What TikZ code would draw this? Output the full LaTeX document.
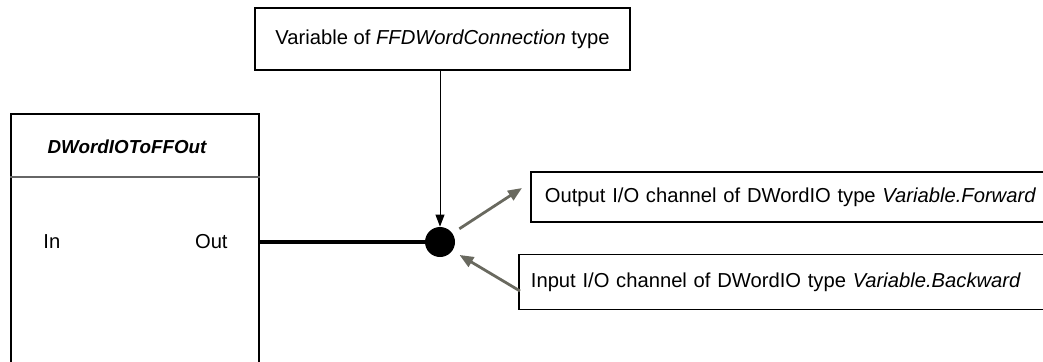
\documentclass[tikz,border=0pt]{standalone}
\usepackage{fontspec}
\setmainfont{Liberation Sans}
\usetikzlibrary{positioning,arrows.meta}
\definecolor{wiregray}{RGB}{105,105,95}
\tikzset{
  box/.style  ={rectangle, draw=black, line width=0.9pt, fill=white, inner sep=0pt},
  lbl/.style  ={font=\fontsize{10.1}{12}\selectfont, inner sep=0pt},
  chan/.style ={box, lbl, anchor=west, align=left, text width=262pt},
  fbttl/.style={font=\fontsize{9.4}{11}\selectfont\bfseries\itshape, inner sep=0pt},
  junc/.style ={circle, fill=black, minimum size=15pt, inner sep=0pt},
  e/.style    ={-{Triangle[length=6pt,width=4.5pt]}, draw=black, line width=0.5pt},
  eg/.style   ={-{Triangle[length=7pt,width=5.5pt]}, draw=wiregray, line width=1.4pt},
}

\begin{document}
\begin{tikzpicture}[x=0.5pt, y=-0.5pt]
\clip (0,0) rectangle (1043,361);
% function block (bottom runs off the picture)
\node[box, anchor=north west, minimum width=124pt, minimum height=160pt] (fb) at (10,113) {};
\draw[line width=0.6pt, black!60] (fb.north west |- 0,177) -- (fb.north east |- 0,177);
\node[fbttl] (fbname) at (127,147) {DWordIOToFFOut};
\node[lbl, anchor=west] (inpin) at (43,242) {In};
\node[lbl, anchor=east] (outlbl) at (228,242) {Out};
\coordinate (outpin) at (fb.east |- 0,242);
% variable and channels
\node[box, lbl, minimum width=187.5pt, minimum height=31pt] (var) at (442.5,39) {Variable of \textit{FFDWordConnection} type};
\node[junc] (dot) at (440,242) {};
\node[chan, minimum height=25pt, inner xsep=7pt] (outch) at (530,197) {\mbox{Output I/O channel of DWordIO type \textit{Variable.Forward}}};
\node[chan, minimum height=27.5pt, inner xsep=6pt] (inch) at (518,282) {\mbox{Input I/O channel of DWordIO type \textit{Variable.Backward}}};
\coordinate (outtip) at (522,188);
\coordinate (intail) at (520,291);
\draw[line width=2pt] (outpin) -- (dot);
\draw[e] (var.south -| dot) -- (dot.north);
\draw[eg, shorten <=4pt] (dot.35) -- (outtip);
\draw[eg, shorten >=4pt] (intail) -- (dot.-35);
\end{tikzpicture}
\end{document}
